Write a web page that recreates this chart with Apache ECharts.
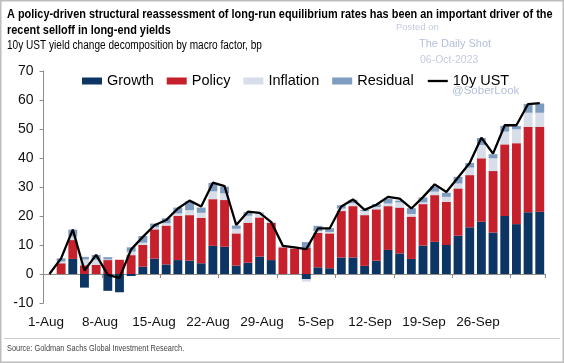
<!DOCTYPE html>
<html>
<head>
<meta charset="utf-8">
<script src="https://cdn.jsdelivr.net/npm/echarts@6/dist/echarts.min.js"></script>
<style>
html,body{margin:0;padding:0;background:#fff;}
#chart{width:564px;height:363px;}
</style>
</head>
<body>
<div id="chart"></div>
<script>
// Categories: business days, 1-Aug .. 29-Sep 2023
const dates = ['1-Aug','2-Aug','3-Aug','4-Aug','7-Aug','8-Aug','9-Aug','10-Aug','11-Aug','14-Aug','15-Aug','16-Aug','17-Aug','18-Aug','21-Aug','22-Aug','23-Aug','24-Aug','25-Aug','28-Aug','29-Aug','30-Aug','31-Aug','1-Sep','5-Sep','6-Sep','7-Sep','8-Sep','11-Sep','12-Sep','13-Sep','14-Sep','15-Sep','18-Sep','19-Sep','20-Sep','21-Sep','22-Sep','25-Sep','26-Sep','27-Sep','28-Sep','29-Sep'];
const tickLabels = ['1-Aug','8-Aug','15-Aug','22-Aug','29-Aug','5-Sep','12-Sep','19-Sep','26-Sep'];

const growth    = [null, 0, 5.2, -4.7, 0, -5.8, -6.3, -0.7, 2.5, 5.3, 3.3, 4.8, 4.6, 3.7, 9.7, 9.4, 2.9, 3.9, 6.0, 4.8, 0, 0, -1.8, 2.3, 2.0, 5.7, 5.7, 2.8, 4.6, 8.3, 7.1, 5.2, 9.8, 11.1, 10.0, 13.2, 16.1, 18.0, 14.3, 20.0, 17.2, 21.3, 21.5];
const policy    = [null, 3.7, 6.5, 3.0, 3.1, 4.8, 4.9, 6.5, 7.5, 10.1, 13.4, 15.3, 15.7, 15.7, 16.1, 16.1, 11.1, 13.8, 13.5, 12.9, 9.2, 8.8, 9.0, 11.9, 12.0, 16.0, 17.7, 17.5, 17.7, 15.1, 15.8, 14.6, 14.3, 16.1, 14.9, 16.3, 18.0, 21.9, 21.2, 24.7, 27.9, 29.5, 29.3];
const inflation = [null, 0.6, 1.2, 2.0, 1.8, 0.2, 0, 1.2, 0.8, 0.7, 0.8, 0.8, 1.7, 1.7, 2.7, 2.3, 1.6, 2.4, 1.4, 0.4, 0.5, 0.3, -0.8, 0.6, 0.5, 0.9, 1.0, 1.4, 0.8, 0.9, 1.8, 0.9, 0.6, 1.2, 1.7, 1.7, 2.6, 4.6, 4.4, 4.4, 4.8, 4.8, 4.8];
const residual  = [null, 1.1, 2.4, 0.9, 1.7, 0.8, 0, 1.5, 2.3, 1.3, 1.7, 2.0, 3.1, 1.8, 2.9, 2.3, 1.1, 1.2, 0.3, -0.3, 0, 0, 2.0, 1.8, 1.3, 1.1, 1.2, 0.4, 1.0, 1.6, 0.6, 2.0, 1.7, 1.8, 1.4, 2.3, 1.6, 2.4, 1.4, 2.0, 1.1, 3.0, 3.2];
const ust10y    = [0, 5.4, 15.3, 1.2, 6.6, -0.3, -1.3, 8.5, 12.8, 16.8, 18.6, 22.6, 25.3, 23.3, 31.5, 30.3, 16.9, 21.5, 21.1, 17.9, 9.7, 9.2, 8.6, 15.7, 15.7, 23.3, 25.7, 22.1, 23.9, 26.6, 26.0, 22.6, 26.5, 30.9, 28.3, 33.3, 38.3, 47.0, 41.5, 51.3, 51.3, 58.6, 58.9];

const FONT = '"Liberation Sans", Arial, Helvetica, sans-serif';
const chart = echarts.init(document.getElementById('chart'), null, {renderer: 'canvas'});

function txt(text, x, y, size, weight, color, sx) {
  return {
    type: 'text', x: x, y: y, scaleX: sx, silent: true, z: 10,
    style: {
      text: text, fill: color,
      font: weight + ' ' + size + 'px ' + FONT,
      textAlign: 'left', textVerticalAlign: 'middle',
      align: 'left', verticalAlign: 'middle'
    }
  };
}

const barW = '76%';
const option = {
  animation: false,
  backgroundColor: '#ffffff',
  textStyle: {fontFamily: FONT},
  legend: {
    left: 77, top: 68, itemWidth: 20, itemHeight: 7, itemGap: 13,
    textStyle: {fontSize: 14.5, color: '#000', fontFamily: FONT, lineHeight: 16},
    data: [
      {name: 'Growth', icon: 'rect'},
      {name: 'Policy', icon: 'rect'},
      {name: 'Inflation', icon: 'rect'},
      {name: 'Residual', icon: 'rect'},
      {name: '10y UST', itemStyle: {opacity: 0}, lineStyle: {color: '#000', width: 2.3}}
    ]
  },
  grid: [
    {left: 43.6, right: 18.4, top: 71, height: 232, containLabel: false},
    {left: 19, width: 486, top: 71, height: 232, containLabel: false}
  ],
  xAxis: [
    {
      type: 'category', gridIndex: 0, data: dates, boundaryGap: true,
      axisLine: {show: true, onZero: true, lineStyle: {color: '#8c8c8c', width: 1}},
      axisTick: {show: true, interval: 4, length: 4, inside: false, lineStyle: {color: '#8c8c8c'}},
      axisLabel: {show: false},
      splitLine: {show: false}
    },
    {
      type: 'category', gridIndex: 1, data: tickLabels, boundaryGap: true,
      axisLine: {show: false, onZero: false},
      axisTick: {show: false},
      axisLabel: {show: true, interval: 0, fontSize: 13.5, color: '#111', margin: 12, fontFamily: FONT},
      splitLine: {show: false}
    }
  ],
  yAxis: [
    {
      type: 'value', gridIndex: 0, min: -10, max: 70, interval: 10,
      axisLine: {show: true, lineStyle: {color: '#8c8c8c', width: 1}},
      axisTick: {show: true, length: 4, lineStyle: {color: '#8c8c8c'}},
      axisLabel: {fontSize: 14, color: '#111', margin: 10, fontFamily: FONT},
      splitLine: {show: false}
    },
    {type: 'value', gridIndex: 1, show: false, min: 0, max: 1}
  ],
  series: [
    {name: 'Growth', type: 'bar', stack: 'total', data: growth, barWidth: barW,
     itemStyle: {color: '#0d3563'}},
    {name: 'Policy', type: 'bar', stack: 'total', data: policy, barWidth: barW,
     itemStyle: {color: '#c5202b'}},
    {name: 'Inflation', type: 'bar', stack: 'total', data: inflation, barWidth: barW,
     itemStyle: {color: '#d7dee9'}},
    {name: 'Residual', type: 'bar', stack: 'total', data: residual, barWidth: barW,
     itemStyle: {color: '#7e9bc0'}},
    {name: '10y UST', type: 'line', data: ust10y, symbol: 'none', z: 5,
     lineStyle: {color: '#000', width: 2.3}, itemStyle: {color: '#000'}}
  ],
  graphic: [
    {type: 'rect', silent: true, z: 0,
     shape: {x: 0.75, y: 0.75, width: 562.5, height: 361.5},
     style: {fill: 'none', stroke: '#bdbdbd', lineWidth: 1.5}},
    {type: 'line', silent: true, z: 1,
     shape: {x1: 4, y1: 338.5, x2: 560, y2: 338.5},
     style: {stroke: '#cfcfcf', lineWidth: 1}},
    txt('A policy-driven structural reassessment of long-run equilibrium rates has been an important driver of the', 7, 14, 13, 'bold', '#000', 0.84),
    txt('recent selloff in long-end yields', 7, 30, 13, 'bold', '#000', 0.84),
    txt('10y UST yield change decomposition by macro factor, bp', 7, 45.5, 12, 'normal', '#000', 0.84),
    txt('Source: Goldman Sachs Global Investment Research.', 7, 349, 9, 'normal', '#444', 0.82),
    txt('Posted on', 396, 27, 9.5, 'normal', '#c3cbdf', 1),
    txt('The Daily Shot', 419, 44, 11, 'normal', '#b3bfd8', 1),
    txt('06-Oct-2023', 420, 60, 10.5, 'normal', '#c3cbdf', 1),
    txt('@SoberLook', 452, 91, 11.5, 'normal', '#b3bfd8', 1)
  ]
};
chart.setOption(option);
</script>
</body>
</html>
